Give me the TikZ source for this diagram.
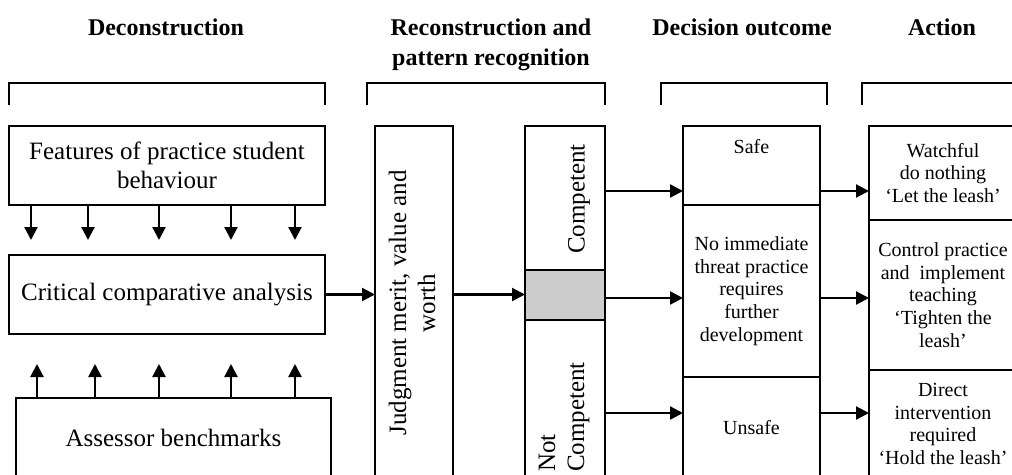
\documentclass[tikz,border=0pt]{standalone}
\usepackage{fontspec}
\setmainfont{Liberation Serif}
\usepackage{tikz}
\usetikzlibrary{arrows.meta}
\definecolor{boxgrey}{HTML}{CCCCCC}

\begin{document}
\begin{tikzpicture}[x=1pt,y=-1pt,
    box/.style={draw,line width=2pt,inner sep=0pt,outer sep=0pt,align=center},
    big/.style={font=\fontsize{25}{29}\selectfont},
    small/.style={font=\fontsize{20}{22.7}\selectfont},
    head/.style={font=\fontsize{24}{30}\selectfont\bfseries,align=center},
    rot/.style={big,rotate=90,align=center,inner sep=1pt},
    arr/.style={line width=2.2pt,-{Triangle[length=13pt,width=13pt]}}]
        \useasboundingbox (0,0) rectangle (1012,474);
        \clip (0,0) rectangle (1012,474);

        \node[head] (hdecon) at (166,27) {Deconstruction};
        \node[head] (hrecon) at (491,45) {Reconstruction and\\pattern recognition};
        \node[head] (hdecis) at (742,27) {Decision outcome};
        \node[head] (haction) at (942,27) {Action};

        \foreach \a/\b in {9/325,367/605,661/827,862/1030}
          \draw[line width=2pt] (\a,105) -- (\a,83) -- (\b,83) -- (\b,105);

        \node[box,big,minimum width=316pt,minimum height=79pt] (features) at (167,165.5) {Features of practice student\\behaviour};
        \node[box,big,minimum width=316pt,minimum height=79pt] (critical) at (167,294.5) {Critical comparative analysis};
        \node[box,big,minimum width=315pt,minimum height=80pt] (assessor) at (173.5,438) {Assessor benchmarks};

        \node[box,minimum width=78pt,minimum height=352pt] (judgment) at (414,302) {};
        \node[rot] (judgtxt) at (412,303) {Judgment merit, value and\\worth};

        \node[box,minimum width=80pt,minimum height=144pt] (compA) at (565,198) {};
        \node[box,fill=boxgrey,minimum width=80pt,minimum height=50pt] (grey) at (565,295) {};
        \node[box,minimum width=80pt,minimum height=158pt] (notc) at (565,399) {};
        \node[rot] (comptxt) at (579,199) {Competent};
        \node[rot,anchor=west,align=left] (notctxt) at (564,473) {Not\\Competent};

        \node[box,minimum width=137pt,minimum height=79pt,label={[small,anchor=north,yshift=-10pt]north:Safe}] (safe) at (751.5,165.5) {};
        \node[box,small,minimum width=137pt,minimum height=172pt] (further) at (751.5,291) {No immediate\\threat practice\\requires\\further\\development};
        \node[box,small,minimum width=137pt,minimum height=101pt] (unsafe) at (751.5,427.5) {Unsafe};

        \node[box,small,minimum width=148pt,minimum height=94pt] (watch) at (943,173) {Watchful\\do nothing\\‘Let the leash’};
        \node[box,small,minimum width=148pt,minimum height=150pt] (tighten) at (943,295) {Control practice\\and~~implement\\teaching\\‘Tighten the\\leash’};
        \node[box,small,minimum width=148pt,minimum height=108pt] (hold) at (943,424) {Direct\\intervention\\required\\‘Hold the leash’};

        \foreach \x in {31,88,159,231,295}
          \draw[arr,shorten >=15pt] (\x,0 |- features.south) -- (\x,0 |- critical.north);
        \foreach \x in {37,95,159,231,295}
          \draw[arr,shorten >=30pt] (\x,0 |- assessor.north) -- (\x,0 |- critical.south);

        \draw[arr] (critical.east) -- (judgment.west |- critical.east);
        \draw[arr] (judgment.east |- critical.east) -- (grey.west |- critical.east);

        \coordinate (rowa) at ([yshift=7pt]compA.east);
        \coordinate (rowb) at ([yshift=-3pt]grey.east);
        \coordinate (rowc) at ([yshift=-14pt]notc.east);
        \foreach \r in {rowa,rowb,rowc}{
          \draw[arr] (\r) -- (\r -| safe.west);
          \draw[arr] (\r -| safe.east) -- (\r -| watch.west);
        }
      \end{tikzpicture}
\end{document}
